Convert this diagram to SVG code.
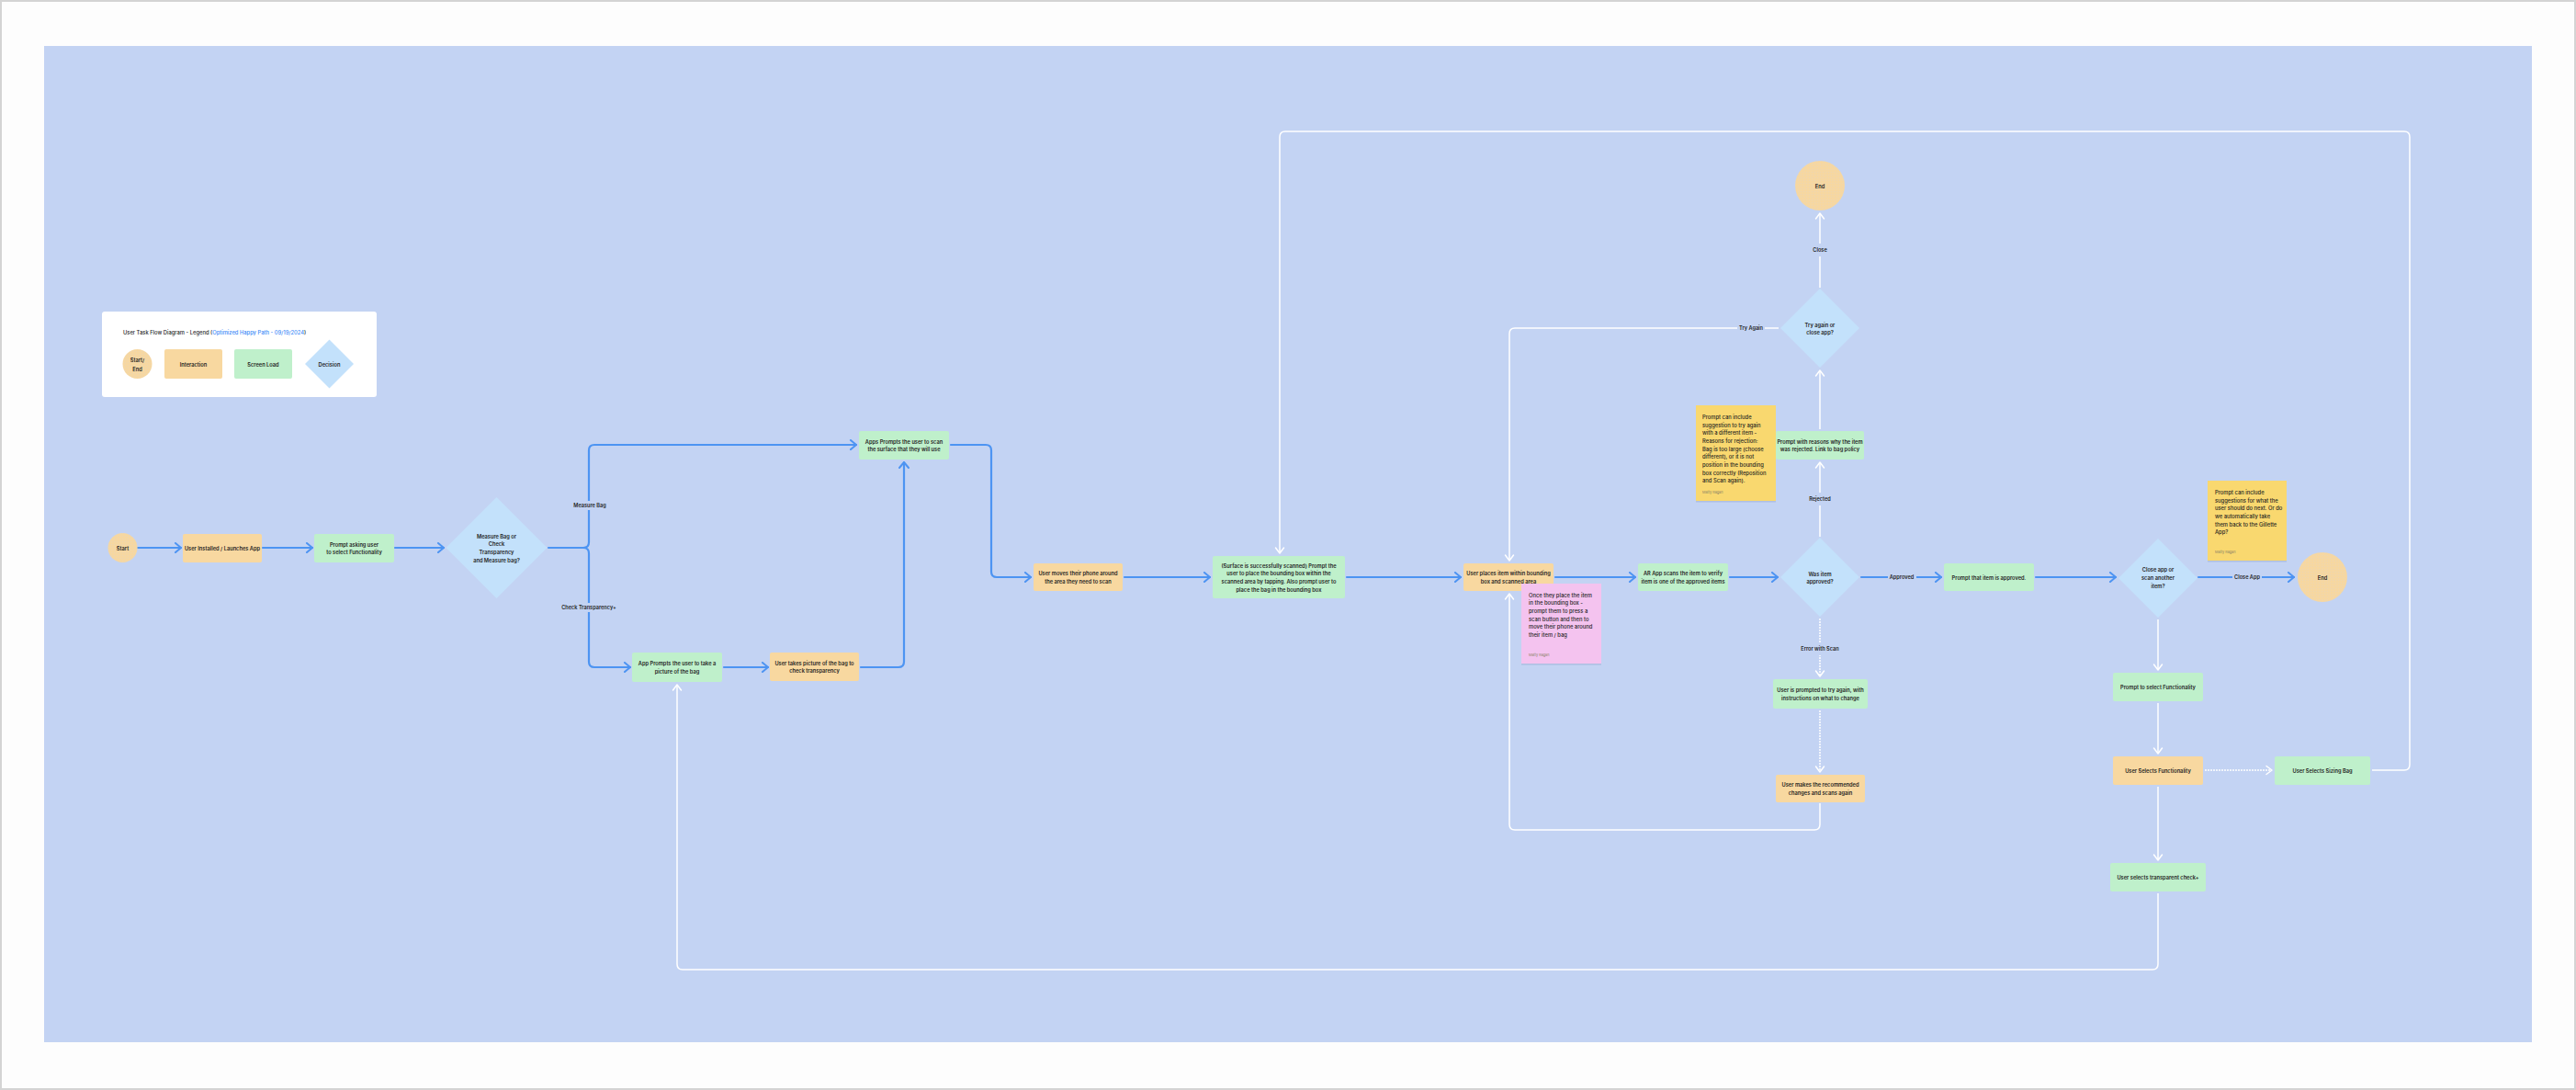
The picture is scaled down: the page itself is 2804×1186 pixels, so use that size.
<svg xmlns="http://www.w3.org/2000/svg" width="2804" height="1186" viewBox="0 0 2804 1186">
<defs>
<style>
.t{font-family:Inter,"Liberation Sans",sans-serif;font-size:5.7px;font-weight:600;fill:#1f1f1f;text-anchor:middle;dominant-baseline:central}
.n{font-family:Inter,"Liberation Sans",sans-serif;font-size:5.8px;font-weight:500;fill:#1f1f1f;dominant-baseline:central}
.au{font-family:Inter,"Liberation Sans",sans-serif;font-size:3.8px;fill:#8d8467;dominant-baseline:central}
.lb{font-family:Inter,"Liberation Sans",sans-serif;font-size:5.6px;font-weight:600;fill:#1f1f1f;text-anchor:middle;dominant-baseline:central}
.int{fill:#f8d8a0}
.scr{fill:#bff0cb}
.dec{fill:#c3e1fb}
.se{fill:url(#dots)}
.ys{fill:#f9d86f}
.ps{fill:#f4c3ef}
.sh{fill:#a6b6da;opacity:.7}
.bl{fill:none;stroke:#4d94f2;stroke-width:2.2;stroke-linecap:round;stroke-linejoin:round;marker-end:url(#ab)}
.wh{fill:none;stroke:#ffffff;stroke-width:1.5;stroke-linejoin:round;marker-end:url(#aw)}
.wd{fill:none;stroke:#ffffff;stroke-width:1.5;stroke-dasharray:2 1;marker-end:url(#aw)}
.bg{fill:#c3d3f3}
</style>
<pattern id="dots" width="3" height="3" patternUnits="userSpaceOnUse">
<rect width="3" height="3" fill="#f6d7a1"/>
<circle cx="1.5" cy="1.5" r="0.45" fill="#e3d5c6"/>
</pattern>
<marker id="ab" viewBox="0 0 10 12" refX="8" refY="6" markerWidth="10" markerHeight="12" markerUnits="userSpaceOnUse" orient="auto">
<path d="M2,1 L8,6 L2,11" fill="none" stroke="#4d94f2" stroke-width="2" stroke-linecap="round" stroke-linejoin="round"/>
</marker>
<marker id="aw" viewBox="0 0 10 12" refX="8" refY="6" markerWidth="10" markerHeight="12" markerUnits="userSpaceOnUse" orient="auto">
<path d="M2,1.5 L8,6 L2,10.5" fill="none" stroke="#ffffff" stroke-width="1.5" stroke-linecap="round" stroke-linejoin="round"/>
</marker>
</defs>

<rect x="1" y="1" width="2802" height="1184" fill="#fdfdfd" stroke="#d4d4d4" stroke-width="2"/>
<rect x="48" y="50" width="2708" height="1084" fill="#c3d3f3"/>

<g id="legend">
<rect x="111" y="339" width="299" height="93" rx="3" fill="#ffffff"/>
<text class="n" x="134" y="361">User Task Flow Diagram - Legend (<tspan fill="#3d8af7">Optimized Happy Path - 09/19/2024</tspan>)</text>
<circle class="se" cx="149.5" cy="396" r="16"/>
<text class="t" x="149.5" y="391.7">Start/</text>
<text class="t" x="149.5" y="401">End</text>
<rect class="int" x="179" y="380" width="63" height="32" rx="2"/>
<text class="t" x="210.5" y="396">Interaction</text>
<rect class="scr" x="255" y="380" width="63" height="32" rx="2"/>
<text class="t" x="286.5" y="396">Screen Load</text>
<polygon class="dec" points="358.5,369.5 385,396 358.5,422.5 332,396"/>
<text class="t" x="358.5" y="396">Decision</text>
</g>

<g id="connectors">
<path class="bl" d="M150,596 H197"/>
<path class="bl" d="M286,596 H340"/>
<path class="bl" d="M430,596 H483"/>
<path class="bl" d="M597,596 H635 Q641,596 641,590 V490 Q641,484 647,484 H932"/>
<path class="bl" d="M635,596 Q641,596 641,602 V720 Q641,726 647,726 H686"/>
<path class="bl" d="M788,726 H836"/>
<path class="bl" d="M937,726 H978 Q984,726 984,720 V503"/>
<path class="bl" d="M1035,484 H1073 Q1079,484 1079,490 V622 Q1079,628 1085,628 H1122"/>
<path class="bl" d="M1224,628 H1317"/>
<path class="bl" d="M1466,628 H1590"/>
<path class="bl" d="M1693,628 H1780"/>
<path class="bl" d="M1883,628 H1935"/>
<path class="bl" d="M2026,628 H2113"/>
<path class="bl" d="M2216,628 H2303"/>
<path class="bl" d="M2393,628 H2497"/>

<path class="wh" d="M1981,584 V503"/>
<path class="wh" d="M1981,467 V403"/>
<path class="wh" d="M1981,313 V232"/>
<path class="wh" d="M1936,357 H1649 Q1643,357 1643,363 V610"/>
<path class="wd" d="M1981,673 V736"/>
<path class="wd" d="M1981,773 V840"/>
<path class="wh" d="M1981,874 V897 Q1981,903 1975,903 H1649 Q1643,903 1643,897 V646"/>
<path class="wh" d="M2349,674 V729"/>
<path class="wh" d="M2349,765 V820"/>
<path class="wd" d="M2400,838 H2473"/>
<path class="wh" d="M2349,856 V936"/>
<path class="wh" d="M2582,838 H2617 Q2623,838 2623,832 V149 Q2623,143 2617,143 H1399 Q1393,143 1393,149 V602"/>
<path class="wh" d="M2349,972 V1049 Q2349,1055 2343,1055 H743 Q737,1055 737,1049 V745"/>

<rect class="bg" x="624" y="545" width="36" height="10"/>
<text class="lb" x="642" y="550">Measure Bag</text>
<rect class="bg" x="610" y="656" width="62" height="10"/>
<text class="lb" x="641" y="661">Check Transparency+</text>
<rect class="bg" x="1891" y="352" width="30" height="10"/>
<text class="lb" x="1906" y="357">Try Again</text>
<rect class="bg" x="1970" y="265" width="22" height="14"/>
<text class="lb" x="1981" y="272">Close</text>
<rect class="bg" x="1966" y="536" width="30" height="14"/>
<text class="lb" x="1981" y="543">Rejected</text>
<rect class="bg" x="2055" y="623" width="31" height="10"/>
<text class="lb" x="2070" y="628">Approved</text>
<rect class="bg" x="1959" y="699" width="44" height="14"/>
<text class="lb" x="1981" y="706">Error with Scan</text>
<rect class="bg" x="2430" y="623" width="32" height="10"/>
<text class="lb" x="2446" y="628">Close App</text>
</g>

<g id="start">
<circle class="se" cx="133.5" cy="596" r="16"/>
<text class="t" x="133.5" y="596">Start</text>
</g>
<g id="user-installed">
<rect class="int" x="199" y="581" width="86" height="31" rx="2"/>
<text class="t" x="242" y="596.5">User Installed / Launches App</text>
</g>
<g id="prompt-asking">
<rect class="scr" x="342" y="581" width="87" height="31" rx="2"/>
<text class="t" x="385.5" y="592.2">Prompt asking user</text>
<text class="t" x="385.5" y="600.9">to select Functionality</text>
</g>
<g id="decision-measure">
<polygon class="dec" points="540.5,541 595.5,596 540.5,651 485.5,596"/>
<text class="t" x="540.5" y="583">Measure Bag or</text>
<text class="t" x="540.5" y="591.8">Check</text>
<text class="t" x="540.5" y="600.6">Transparency</text>
<text class="t" x="540.5" y="609.5">and Measure bag?</text>
</g>
<g id="apps-prompts-scan">
<rect class="scr" x="935" y="469" width="98" height="31" rx="2"/>
<text class="t" x="984" y="480.2">Apps Prompts the user to scan</text>
<text class="t" x="984" y="488.9">the surface that they will use</text>
</g>
<g id="app-prompts-picture">
<rect class="scr" x="688" y="710" width="98" height="32" rx="2"/>
<text class="t" x="737" y="721.7">App Prompts the user to take a</text>
<text class="t" x="737" y="730.4">picture of the bag</text>
</g>
<g id="user-takes-picture">
<rect class="int" x="838" y="710" width="97" height="31" rx="2"/>
<text class="t" x="886.5" y="721.2">User takes picture of the bag to</text>
<text class="t" x="886.5" y="729.9">check transparency</text>
</g>
<g id="user-moves">
<rect class="int" x="1125" y="613" width="97" height="30" rx="2"/>
<text class="t" x="1173.5" y="623.7">User moves their phone around</text>
<text class="t" x="1173.5" y="632.4">the area they need to scan</text>
</g>
<g id="surface-scanned">
<rect class="scr" x="1320" y="605" width="144" height="46" rx="2"/>
<text class="t" x="1392" y="615">(Surface is successfully scanned) Prompt the</text>
<text class="t" x="1392" y="623.7">user to place the bounding box within the</text>
<text class="t" x="1392" y="632.4">scanned area by tapping. Also prompt user to</text>
<text class="t" x="1392" y="641.1">place the bag in the bounding box</text>
</g>
<g id="user-places">
<rect class="int" x="1593" y="613" width="98" height="30" rx="2"/>
<text class="t" x="1642" y="623.7">User places item within bounding</text>
<text class="t" x="1642" y="632.4">box and scanned area</text>
</g>
<g id="note-pink">
<rect class="sh" x="1656" y="721" width="87" height="2.5"/>
<rect class="ps" x="1656" y="635" width="87" height="87"/>
<text class="n" x="1664" y="647">Once they place the item</text>
<text class="n" x="1664" y="655.7">in the bounding box -</text>
<text class="n" x="1664" y="664.4">prompt them to press a</text>
<text class="n" x="1664" y="673.1">scan button and then to</text>
<text class="n" x="1664" y="681.8">move their phone around</text>
<text class="n" x="1664" y="690.5">their item / bag</text>
<text class="au" x="1664" y="712">Matty Ragan</text>
</g>
<g id="ar-scans">
<rect class="scr" x="1783" y="613" width="98" height="30" rx="2"/>
<text class="t" x="1832" y="623.7">AR App scans the item to verify</text>
<text class="t" x="1832" y="632.4">item is one of the approved items</text>
</g>
<g id="decision-approved">
<polygon class="dec" points="1981,585 2024,628 1981,671 1938,628"/>
<text class="t" x="1981" y="624">Was item</text>
<text class="t" x="1981" y="632.7">approved?</text>
</g>
<g id="prompt-approved">
<rect class="scr" x="2116" y="613" width="98" height="30" rx="2"/>
<text class="t" x="2165" y="628">Prompt that item is approved.</text>
</g>
<g id="user-prompted-try">
<rect class="scr" x="1930" y="739" width="103" height="32" rx="2"/>
<text class="t" x="1981.5" y="750.7">User is prompted to try again, with</text>
<text class="t" x="1981.5" y="759.4">instructions on what to change</text>
</g>
<g id="user-makes-changes">
<rect class="int" x="1933" y="843" width="97" height="30" rx="2"/>
<text class="t" x="1981.5" y="853.7">User makes the recommended</text>
<text class="t" x="1981.5" y="862.4">changes and scans again</text>
</g>
<g id="prompt-reasons">
<rect class="scr" x="1933" y="469" width="96" height="31" rx="2"/>
<text class="t" x="1981" y="480.2">Prompt with reasons why the item</text>
<text class="t" x="1981" y="488.9">was rejected. Link to bag policy</text>
</g>
<g id="note-yellow-1">
<rect class="sh" x="1846" y="544" width="87" height="2.5"/>
<rect class="ys" x="1846" y="441" width="87" height="104"/>
<text class="n" x="1853" y="453.3">Prompt can include</text>
<text class="n" x="1853" y="462">suggestion to try again</text>
<text class="n" x="1853" y="470.7">with a different item -</text>
<text class="n" x="1853" y="479.4">Reasons for rejection:</text>
<text class="n" x="1853" y="488.1">Bag is too large (choose</text>
<text class="n" x="1853" y="496.8">different), or it is not</text>
<text class="n" x="1853" y="505.5">position in the bounding</text>
<text class="n" x="1853" y="514.2">box correctly (Reposition</text>
<text class="n" x="1853" y="522.9">and Scan again).</text>
<text class="au" x="1853" y="535">Matty Ragan</text>
</g>
<g id="decision-try-again">
<polygon class="dec" points="1981,314 2024,357 1981,400 1938,357"/>
<text class="t" x="1981" y="353">Try again or</text>
<text class="t" x="1981" y="361.7">close app?</text>
</g>
<g id="end-top">
<circle class="se" cx="1981" cy="202" r="27"/>
<text class="t" x="1981" y="202">End</text>
</g>
<g id="decision-close">
<polygon class="dec" points="2349,586 2392,629 2349,672 2306,629"/>
<text class="t" x="2349" y="619.3">Close app or</text>
<text class="t" x="2349" y="628.3">scan another</text>
<text class="t" x="2349" y="637">item?</text>
</g>
<g id="note-yellow-2">
<rect class="sh" x="2403" y="609" width="86" height="2.5"/>
<rect class="ys" x="2403" y="523" width="86" height="87"/>
<text class="n" x="2411" y="535.3">Prompt can include</text>
<text class="n" x="2411" y="544">suggestions for what the</text>
<text class="n" x="2411" y="552.7">user should do next. Or do</text>
<text class="n" x="2411" y="561.4">we automatically take</text>
<text class="n" x="2411" y="570.1">them back to the Gillette</text>
<text class="n" x="2411" y="578.8">App?</text>
<text class="au" x="2411" y="600">Matty Ragan</text>
</g>
<g id="end-right">
<circle class="se" cx="2528" cy="628" r="27"/>
<text class="t" x="2528" y="628">End</text>
</g>
<g id="prompt-select">
<rect class="scr" x="2300" y="732" width="98" height="31" rx="2"/>
<text class="t" x="2349" y="747.5">Prompt to select Functionality</text>
</g>
<g id="user-selects-functionality">
<rect class="int" x="2300" y="823" width="98" height="31" rx="2"/>
<text class="t" x="2349" y="838.5">User Selects Functionality</text>
</g>
<g id="user-selects-sizing">
<rect class="scr" x="2476" y="823" width="104" height="31" rx="2"/>
<text class="t" x="2528" y="838.5">User Selects Sizing Bag</text>
</g>
<g id="user-selects-transparent">
<rect class="scr" x="2297" y="939" width="104" height="31" rx="2"/>
<text class="t" x="2349" y="954.5">User selects transparent check+</text>
</g>
</svg>
